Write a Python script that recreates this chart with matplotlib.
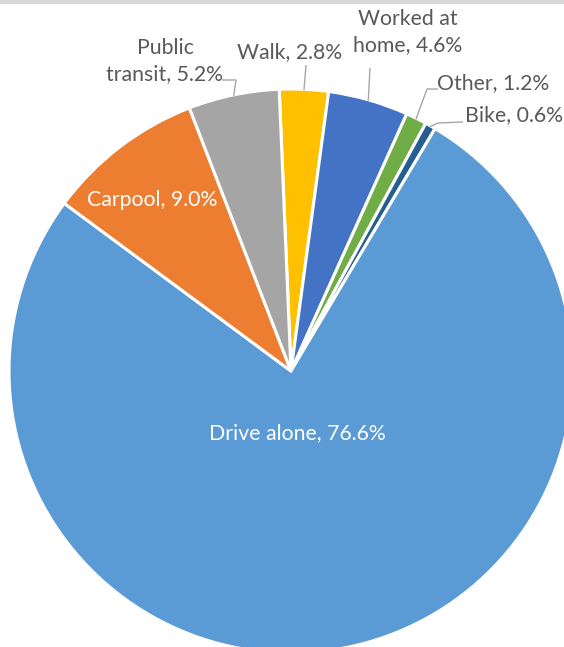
import matplotlib
matplotlib.use("Agg")
import matplotlib.pyplot as plt
import numpy as np
from matplotlib.patches import Rectangle

# ---- data ----
categories = ["Walk", "Worked at\nhome", "Other", "Bike", "Drive alone", "Carpool", "Public\ntransit"]
values = [2.8, 4.6, 1.2, 0.6, 76.6, 9.0, 5.2]
colors = ["#FFC000", "#4472C4", "#70AD47", "#255E91", "#5B9BD5", "#ED7D31", "#A5A5A5"]

W, H = 564, 647
fig = plt.figure(figsize=(W / 100, H / 100), dpi=100)
ax = fig.add_axes([0, 0, 1, 1])

def py(y):
    return H - y

cx, cy, R = 291, py(371), 282
start = 92.4
wedges, _ = ax.pie(values, colors=colors, startangle=start, counterclock=False,
                   center=(cx, cy), radius=R,
                   wedgeprops=dict(edgecolor="white", linewidth=2.2))
ax.set_xlim(0, W)
ax.set_ylim(0, H)
ax.set_aspect("equal")
ax.axis("off")

# gray strip at top
fig.patches.append(Rectangle((0, 1 - 4 / H), 1, 4 / H, transform=fig.transFigure,
                             facecolor="#D9D9D9", edgecolor="none"))

font = "Lato"
fs = 15.3
label_text_color = "#595959"

def label_str(i):
    return f"{categories[i]}, {values[i]:.1f}%"

def mid_point(i, rr=R):
    w = wedges[i]
    ang = np.deg2rad((w.theta1 + w.theta2) / 2)
    return cx + rr * np.cos(ang), cy + rr * np.sin(ang)

# outside labels: (index, text centre px, leader path after wedge point)
outside = [
    (6, (165, 61), [(236, 80), (222, 80)]),
    (0, (290, 52), [(306, 65)]),
    (1, (408, 32), [(370, 68)]),
    (2, (493, 83), [(427, 89), (438, 89)]),
    (3, (514, 115), [(438, 123), (463, 122)]),
]
for i, (tx, ty), path in outside:
    ax.text(tx, py(ty), label_str(i), ha="center", va="center", fontsize=fs,
            family=font, color=label_text_color, linespacing=1.4)
    x0, y0 = mid_point(i, R - 1)
    xs = [x0] + [p[0] for p in path]
    ys = [y0] + [py(p[1]) for p in path]
    ax.plot(xs, ys, color="#A6A6A6", lw=1.0, solid_capstyle="butt")

# inside labels
ax.text(152, py(200), label_str(5), ha="center", va="center", fontsize=fs,
        family=font, color="white")
ax.text(297, py(433), label_str(4), ha="center", va="center", fontsize=fs,
        family=font, color="white")

fig.savefig("out.png", dpi=100)
